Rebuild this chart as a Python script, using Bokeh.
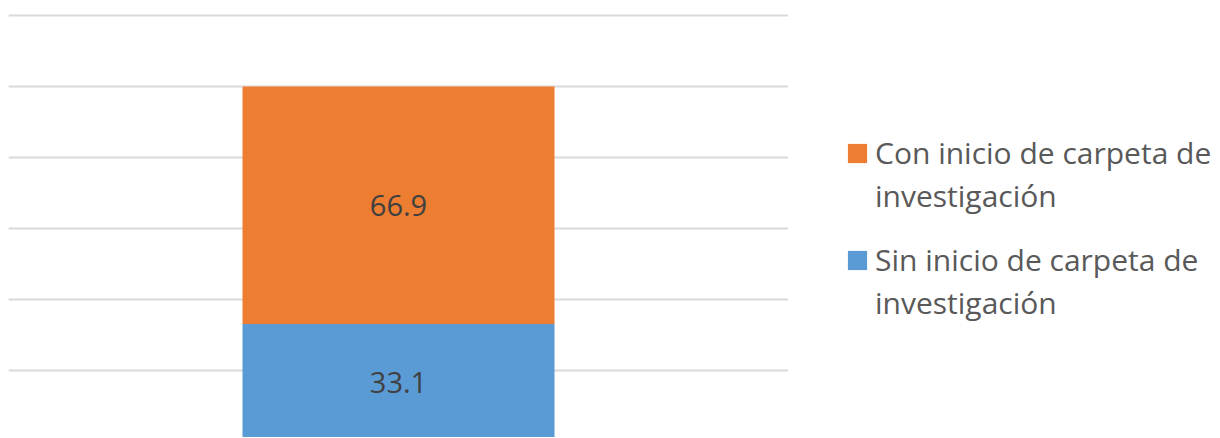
from bokeh.plotting import figure
from bokeh.layouts import row
from bokeh.models import Range1d, FactorRange, SingleIntervalTicker, Legend, LegendItem, ColumnDataSource
from bokeh.core.properties import value
from bokeh.embed import file_html
from bokeh.resources import INLINE

# ---- data ----
categories = ["Total"]
series_lines = [["Sin inicio de carpeta de", "investigación"],
                ["Con inicio de carpeta de", "investigación"]]
sin_inicio = [33.1]
con_inicio = [66.9]
colors = ["#5B9BD5", "#ED7D31"]

FONT = "Open Sans"

src = ColumnDataSource(dict(cat=categories, sin=sin_inicio, con=con_inicio))

p = figure(x_range=FactorRange(*categories), y_range=Range1d(1.1, 120.6),
           frame_width=780, frame_height=424, output_backend="svg",
           toolbar_location=None, min_border_left=8, min_border_right=0,
           min_border_top=13, min_border_bottom=0)
p.outline_line_color = None
p.background_fill_color = "white"
p.border_fill_color = "white"

p.vbar_stack(["sin", "con"], x="cat", width=0.4, color=colors, line_color=None, source=src)

p.xaxis.visible = False
p.yaxis.visible = False
p.xgrid.grid_line_color = None
p.yaxis.ticker = SingleIntervalTicker(interval=20)
p.ygrid.grid_line_color = "#D9D9D9"
p.ygrid.grid_line_width = 2

# data labels (segment centers)
lab_y = [sin_inicio[0] / 2, sin_inicio[0] + con_inicio[0] / 2]
lab_t = [f"{sin_inicio[0]:.1f}", f"{con_inicio[0]:.1f}"]
p.text(x=[categories[0], categories[0]], y=lab_y, text=lab_t,
       text_font=value(FONT), text_font_size="29px", text_color="#404040",
       text_align="center", text_baseline="middle")

# legend panel
p2 = figure(width=430, height=437, x_range=Range1d(0, 1), y_range=Range1d(0, 1),
            output_backend="svg", toolbar_location=None,
            min_border_left=0, min_border_right=0, min_border_top=13, min_border_bottom=0)
p2.outline_line_color = None
p2.axis.visible = False
p2.grid.visible = False
# legend-only renderers (kept outside the visible range)
r_con = p2.vbar(x=[5], top=[5], bottom=[4], width=0.1, color=colors[1], line_color=None)
r_sin = p2.vbar(x=[5], top=[5], bottom=[4], width=0.1, color=colors[0], line_color=None)
r_blank = p2.vbar(x=[5], top=[5], bottom=[4], width=0.1, fill_alpha=0, line_alpha=0)

def make_legend(lines, rend, loc):
    return Legend(items=[LegendItem(label=lines[0], renderers=[rend]),
                         LegendItem(label=lines[1], renderers=[r_blank])],
                  location=loc, glyph_width=24, glyph_height=24,
                  label_text_font=FONT, label_text_font_size="30px",
                  label_text_color="#595959", label_standoff=6, spacing=2,
                  padding=0, margin=0, border_line_color=None,
                  background_fill_alpha=0)

p2.add_layout(make_legend(series_lines[1], r_con, (57, 221)), "center")
p2.add_layout(make_legend(series_lines[0], r_sin, (57, 114)), "center")

layout = row(p, p2, spacing=0)
open("out.html", "w").write(file_html(layout, INLINE))
